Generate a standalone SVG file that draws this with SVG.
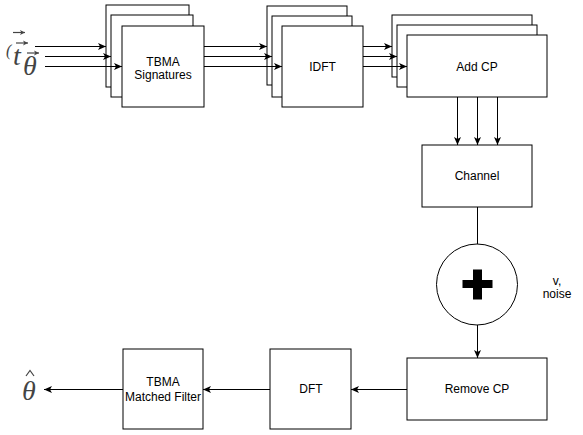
<svg xmlns="http://www.w3.org/2000/svg" width="583" height="435" viewBox="0 0 583 435">
<defs>
<style>
.box{fill:#fff;stroke:#000;stroke-width:1}
.lbl{font-family:"Liberation Sans",Arial,sans-serif;font-size:12px;fill:#000;text-anchor:middle}
.ln{fill:none;stroke:#000;stroke-width:1}
.math{font-family:"Liberation Serif","Times New Roman",serif;font-style:italic;fill:#444}
.acc{fill:none;stroke:#444;stroke-width:1.2}
</style>
<marker id="ah" markerUnits="userSpaceOnUse" markerWidth="10" markerHeight="10" viewBox="0 0 10 10" refX="9" refY="5" orient="auto">
<path d="M1,1.5 L9,5 L1,8.5 L3,5 Z" fill="#000"/>
</marker>
<marker id="vh" markerUnits="userSpaceOnUse" markerWidth="6" markerHeight="6" viewBox="0 0 6 6" refX="5.5" refY="3" orient="auto">
<path d="M0.5,0.5 L5.5,3 L0.5,5.5 L1.8,3 Z" fill="#444"/>
</marker>
</defs>
<rect width="583" height="435" fill="#fff"/>

<g id="input-label">
<text class="math" x="6" y="56" font-size="16" font-style="normal">(</text>
<path class="acc" d="M13,32.5 H25" marker-end="url(#vh)"/>
<path class="acc" d="M16,43 H28" marker-end="url(#vh)"/>
<path class="acc" d="M27,53 H39" marker-end="url(#vh)"/>
<text class="math" x="13" y="65" font-size="28">t</text>
<text class="math" x="23" y="75" font-size="28">θ</text>
</g>

<g id="tbma-signatures">
<rect class="box" x="106" y="5" width="83" height="82"/>
<rect class="box" x="111" y="15" width="82" height="82"/>
<rect class="box" x="122" y="26" width="82" height="81"/>
<text class="lbl" x="163" y="65.5">TBMA</text>
<text class="lbl" x="163" y="79">Signatures</text>
</g>

<g id="idft">
<rect class="box" x="267" y="6" width="80" height="79"/>
<rect class="box" x="272" y="16" width="80" height="81"/>
<rect class="box" x="282" y="26" width="81" height="81"/>
<text class="lbl" x="322.5" y="71">IDFT</text>
</g>

<g id="add-cp">
<rect class="box" x="392" y="15" width="140" height="62"/>
<rect class="box" x="397" y="25" width="140" height="62"/>
<rect class="box" x="407" y="35" width="140" height="62"/>
<text class="lbl" x="477" y="71">Add CP</text>
</g>

<g id="channel">
<rect class="box" x="422" y="145" width="110" height="62"/>
<text class="lbl" x="477" y="180">Channel</text>
</g>

<g id="adder">
<circle class="box" cx="477" cy="284.5" r="40.5"/>
<path d="M462.5,280 H473 V269.5 H482 V280 H492.5 V288 H482 V299.5 H473 V288 H462.5 Z" fill="#000"/>
</g>

<g id="noise-label">
<text class="lbl" x="557" y="285">v,</text>
<text class="lbl" x="557" y="298">noise</text>
</g>

<g id="remove-cp">
<rect class="box" x="407" y="358" width="140" height="62"/>
<text class="lbl" x="477" y="393">Remove CP</text>
</g>

<g id="dft">
<rect class="box" x="270" y="349" width="81" height="80"/>
<text class="lbl" x="311" y="393">DFT</text>
</g>

<g id="tbma-matched-filter">
<rect class="box" x="123" y="349" width="80" height="80"/>
<text class="lbl" x="163" y="386">TBMA</text>
<text class="lbl" x="163" y="401">Matched Filter</text>
</g>

<g id="output-label">
<text class="math" x="22" y="400" font-size="28">θ</text>
<path class="acc" d="M26,376 L30,370.5 L34,376"/>
</g>

<g id="connectors">
<line class="ln" x1="35" y1="46.5" x2="106" y2="46.5" marker-end="url(#ah)"/>
<line class="ln" x1="45" y1="56.5" x2="111" y2="56.5" marker-end="url(#ah)"/>
<line class="ln" x1="45" y1="66.5" x2="122" y2="66.5" marker-end="url(#ah)"/>
<line class="ln" x1="204" y1="46.5" x2="267" y2="46.5" marker-end="url(#ah)"/>
<line class="ln" x1="204" y1="56.5" x2="272" y2="56.5" marker-end="url(#ah)"/>
<line class="ln" x1="204" y1="66.5" x2="282" y2="66.5" marker-end="url(#ah)"/>
<line class="ln" x1="363" y1="46.5" x2="392" y2="46.5" marker-end="url(#ah)"/>
<line class="ln" x1="363" y1="56.5" x2="397" y2="56.5" marker-end="url(#ah)"/>
<line class="ln" x1="363" y1="66.5" x2="407" y2="66.5" marker-end="url(#ah)"/>
<line class="ln" x1="457.5" y1="97" x2="457.5" y2="145" marker-end="url(#ah)"/>
<line class="ln" x1="477.5" y1="97" x2="477.5" y2="145" marker-end="url(#ah)"/>
<line class="ln" x1="497.5" y1="97" x2="497.5" y2="145" marker-end="url(#ah)"/>
<line class="ln" x1="477.5" y1="207" x2="477.5" y2="244"/>
<line class="ln" x1="477.5" y1="325" x2="477.5" y2="358" marker-end="url(#ah)"/>
<line class="ln" x1="407" y1="389.5" x2="351" y2="389.5" marker-end="url(#ah)"/>
<line class="ln" x1="270" y1="389.5" x2="203" y2="389.5" marker-end="url(#ah)"/>
<line class="ln" x1="123" y1="389.5" x2="44" y2="389.5" marker-end="url(#ah)"/>
</g>
</svg>
